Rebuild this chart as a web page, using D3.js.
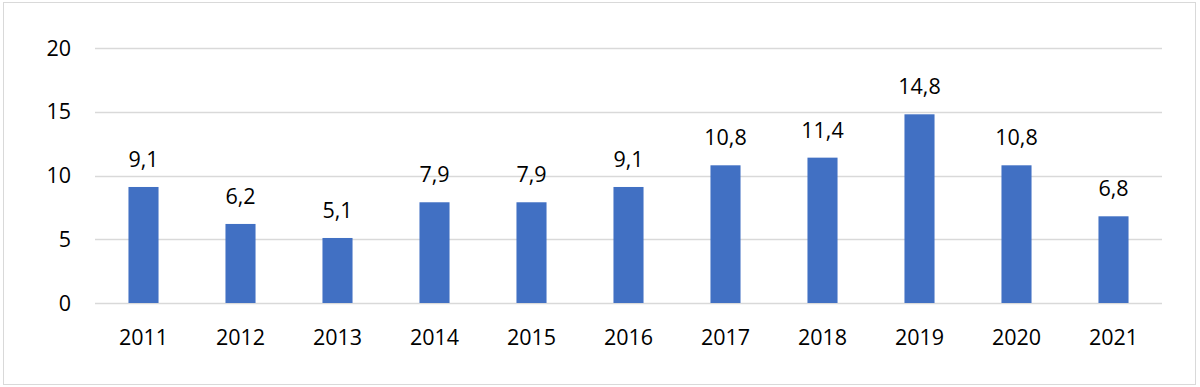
<!DOCTYPE html>
<html>
<head>
<meta charset="utf-8">
<script src="https://cdnjs.cloudflare.com/ajax/libs/d3/7.8.5/d3.min.js"></script>
<style>
  html, body { margin: 0; padding: 0; background: #fff; }
  svg { display: block; }
  text { font-family: "Open Sans", "Noto Sans", sans-serif; fill: #000; }
</style>
</head>
<body>
<div id="chart"></div>
<script>
const years = ["2011", "2012", "2013", "2014", "2015", "2016", "2017", "2018", "2019", "2020", "2021"];
const values = [9.1, 6.2, 5.1, 7.9, 7.9, 9.1, 10.8, 11.4, 14.8, 10.8, 6.8];
const yTicks = [0, 5, 10, 15, 20];

const width = 1200, height = 387;
const margin = { top: 48, right: 38, bottom: 84, left: 95 };
const fontSize = "21.5px";

const svg = d3.select("#chart").append("svg")
  .attr("width", width)
  .attr("height", height);

// outer frame
svg.append("rect")
  .attr("x", 3.5).attr("y", 2.5)
  .attr("width", 1192).attr("height", 382)
  .attr("fill", "none")
  .attr("stroke", "#d9d9d9")
  .attr("stroke-width", 1);

const x = d3.scaleBand()
  .domain(years)
  .range([margin.left, width - margin.right])
  .paddingInner(0.69)
  .paddingOuter(0.345);

const y = d3.scaleLinear()
  .domain([0, 20])
  .range([height - margin.bottom, margin.top]);

// gridlines
svg.append("g")
  .selectAll("line")
  .data(yTicks)
  .join("line")
  .attr("x1", margin.left)
  .attr("x2", width - margin.right)
  .attr("y1", d => Math.round(y(d)) + 0.5)
  .attr("y2", d => Math.round(y(d)) + 0.5)
  .attr("stroke", "#d9d9d9")
  .attr("stroke-width", 1.5);

// y labels
const fmt = d3.formatLocale({ decimal: ",", thousands: ".", grouping: [3], currency: ["", ""] });
svg.append("g")
  .selectAll("text")
  .data(yTicks)
  .join("text")
  .attr("x", 71)
  .attr("y", d => y(d))
  .attr("dy", "0.35em")
  .attr("text-anchor", "end")
  .style("font-size", fontSize)
  .text(d => d);

// bars
svg.append("g")
  .selectAll("rect")
  .data(values)
  .join("rect")
  .attr("x", (d, i) => x(years[i]))
  .attr("y", d => y(d))
  .attr("width", x.bandwidth())
  .attr("height", d => y(0) - y(d))
  .attr("fill", "#4170c3");

// value labels
svg.append("g")
  .selectAll("text")
  .data(values)
  .join("text")
  .attr("x", (d, i) => x(years[i]) + x.bandwidth() / 2)
  .attr("y", d => y(d) - 20)
  .attr("text-anchor", "middle")
  .style("font-size", fontSize)
  .text(d => fmt.format(".1f")(d));

// x labels
svg.append("g")
  .selectAll("text")
  .data(years)
  .join("text")
  .attr("x", d => x(d) + x.bandwidth() / 2)
  .attr("y", 345)
  .attr("text-anchor", "middle")
  .style("font-size", fontSize)
  .text(d => d);
</script>
</body>
</html>
